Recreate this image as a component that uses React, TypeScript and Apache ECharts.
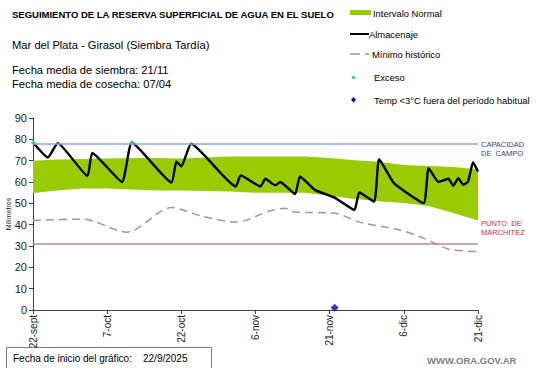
import React, { useEffect, useRef } from "react";
import * as echarts from "echarts";

// x values are days since the chart start date (22/9/2025)
const tickLabels = ["22-sept", "7-oct", "22-oct", "6-nov", "21-nov", "6-dic", "21-dic"];

const bandDays = [0, 5, 10, 15, 20, 25, 30, 35, 40, 45, 50, 55, 60, 65, 70, 75, 80, 85, 90];
const bandUpper = [70, 70.5, 70.8, 71, 71.3, 71.3, 71, 71.5, 72, 72, 72, 72, 71.3, 70.2, 69.5, 68, 67.5, 67, 66];
const bandLower = [54.8, 56, 57, 57, 56.5, 56, 56, 55.8, 55.5, 55, 55, 55, 53.5, 52, 51, 50.2, 48.8, 45.5, 42];

const storageDays = [0, 3, 5, 11, 12, 18, 20, 28, 29, 30, 32, 41, 42, 46, 47, 49, 50, 53, 54, 57, 61, 65, 66, 69, 70, 73, 79, 80, 82, 84, 85, 86, 87, 88, 89, 90];
const storageValues = [78.5, 71.5, 78.2, 62.9, 73.6, 60, 78.5, 59.8, 69.6, 67.3, 77.9, 57.9, 63.1, 57.9, 61.5, 58.4, 60, 54.3, 62.6, 56.3, 52.7, 46.9, 55.1, 50.8, 70.7, 59.5, 50.1, 66.5, 60, 61.5, 58.2, 61.8, 58.7, 60.2, 69.3, 64.9];

const minDays = [0, 10, 19, 28, 34, 41, 48, 51, 53, 61, 66, 74, 79, 84, 90];
const minValues = [41.9, 42.6, 36.5, 48, 44.1, 41.2, 46.5, 47.7, 45.9, 45.4, 41.2, 37.6, 33.7, 28.6, 27.4];

const excessDays = [0, 20];
const excessValues = [78.5, 78.5];

const coldDays = [61];
const coldValues = [1];

const fieldCapacity = 78;
const wiltingPoint = 31;

const font = "Liberation Sans, Arial, sans-serif";

export default function App() {
  const ref = useRef<HTMLDivElement>(null);

  useEffect(() => {
    if (!ref.current) return;
    const chart = echarts.init(ref.current, undefined, { renderer: "svg" });
    const pairs = (xs: number[], ys: number[]) => xs.map((x, i) => [x, ys[i]]);
    const bandData = bandDays.map((d, i) => [d, bandUpper[i], bandLower[i]]);

    const option: any = {
      animation: false,
      textStyle: { fontFamily: font },
      grid: { left: 33, right: 63, top: 118, bottom: 58, containLabel: false, outerBoundsMode: "none" },
      xAxis: {
        type: "value",
        min: 0,
        max: 90,
        interval: 15,
        splitLine: { show: false },
        axisLine: { lineStyle: { color: "#404040", width: 1 } },
        axisTick: { show: true, length: 4, lineStyle: { color: "#404040" } },
        axisLabel: {
          rotate: 90,
          fontSize: 10,
          color: "#222",
          margin: 5,
          formatter: (v: number) => tickLabels[Math.round(v / 15)] ?? "",
        },
      },
      yAxis: {
        type: "value",
        min: 0,
        max: 90,
        interval: 10,
        splitLine: { show: false },
        axisLine: { show: true, lineStyle: { color: "#404040", width: 1 } },
        axisTick: { show: true, length: 4, lineStyle: { color: "#404040" } },
        axisLabel: { fontSize: 11, color: "#222", margin: 6 },
      },
      series: [
        {
          name: "Intervalo Normal",
          type: "custom",
          data: bandData,
          encode: { x: 0, y: [1, 2] },
          z: 1,
          renderItem: (params: any, api: any) => {
            if (params.dataIndex !== 0) return null;
            const top = bandData.map((d) => api.coord([d[0], d[1]]));
            const bottom = bandData.map((d) => api.coord([d[0], d[2]])).reverse();
            return {
              type: "polygon",
              shape: { points: top.concat(bottom), smooth: 0 },
              style: { fill: "#99cc00" },
            };
          },
        },
        {
          name: "Mínimo histórico",
          type: "line",
          data: pairs(minDays, minValues),
          symbol: "none",
          smooth: 0.3,
          lineStyle: { color: "#9a9a9a", width: 1.5, type: [8, 5] },
          z: 2,
          markLine: {
            silent: true,
            symbol: "none",
            label: { show: false },
            data: [
              { yAxis: fieldCapacity, lineStyle: { color: "#8ea9db", width: 1.5, type: "solid" } },
              { yAxis: wiltingPoint, lineStyle: { color: "#c08a8a", width: 1.5, type: "solid" } },
            ],
          },
        },
        {
          name: "Almacenaje",
          type: "line",
          data: pairs(storageDays, storageValues),
          symbol: "none",
          smooth: 0.15,
          lineStyle: { color: "#000", width: 2.4 },
          z: 3,
        },
        {
          name: "Exceso",
          type: "scatter",
          data: pairs(excessDays, excessValues),
          symbol: "circle",
          symbolSize: 4,
          itemStyle: { color: "#33ccee" },
          z: 4,
        },
        {
          name: "Temp",
          type: "scatter",
          data: pairs(coldDays, coldValues),
          symbol: "diamond",
          symbolSize: 8,
          itemStyle: { color: "#0000cc" },
          z: 4,
        },
      ],
      graphic: [
        { type: "text", left: 12, top: 9, style: { text: "SEGUIMIENTO DE LA RESERVA SUPERFICIAL DE AGUA EN EL SUELO", font: `bold 9.5px ${font}`, fill: "#000" } },
        { type: "text", left: 12, top: 39, style: { text: "Mar del Plata - Girasol (Siembra Tardía)", font: `11.2px ${font}`, fill: "#000" } },
        { type: "text", left: 12, top: 64, style: { text: "Fecha media de siembra: 21/11", font: `11.2px ${font}`, fill: "#000" } },
        { type: "text", left: 12, top: 78, style: { text: "Fecha media de cosecha: 07/04", font: `11.2px ${font}`, fill: "#000" } },
        // y axis name
        { type: "text", x: 8, y: 214, rotation: Math.PI / 2, style: { text: "Milímetros", font: `7px ${font}`, fill: "#222", align: "center", verticalAlign: "middle" } },
        // legend
        { type: "rect", shape: { x: 350, y: 10, width: 21, height: 5 }, style: { fill: "#99cc00" } },
        { type: "text", x: 373, y: 13, style: { text: "Intervalo Normal", font: `9.4px ${font}`, fill: "#000", verticalAlign: "middle" } },
        { type: "line", shape: { x1: 350, y1: 34, x2: 369, y2: 34 }, style: { stroke: "#000", lineWidth: 2 } },
        { type: "text", x: 369, y: 34, style: { text: "Almacenaje", font: `9.4px ${font}`, fill: "#000", verticalAlign: "middle" } },
        { type: "line", shape: { x1: 350, y1: 54, x2: 360, y2: 54 }, style: { stroke: "#9a9a9a", lineWidth: 1.5 } },
        { type: "line", shape: { x1: 365, y1: 54, x2: 369, y2: 54 }, style: { stroke: "#555", lineWidth: 1 } },
        { type: "text", x: 372, y: 54, style: { text: "Mínimo histórico", font: `9.4px ${font}`, fill: "#000", verticalAlign: "middle" } },
        { type: "circle", shape: { cx: 353.5, cy: 77.5, r: 1.8 }, style: { fill: "#33ccee" } },
        { type: "text", x: 374, y: 77, style: { text: "Exceso", font: `9.4px ${font}`, fill: "#000", verticalAlign: "middle" } },
        { type: "polygon", shape: { points: [[353.5, 97], [356, 99.7], [353.5, 102.4], [351, 99.7]] }, style: { fill: "#0000cc" } },
        { type: "text", x: 374, y: 100, style: { text: "Temp <3°C fuera del período habitual", font: `9.4px ${font}`, fill: "#000", verticalAlign: "middle" } },
        // right labels
        { type: "text", x: 481, y: 140, style: { text: "CAPACIDAD\nDE  CAMPO", font: `7.5px ${font}`, fill: "#3a3aa8", lineHeight: 9 } },
        { type: "text", x: 481, y: 219, style: { text: "PUNTO  DE\nMARCHITEZ", font: `7.5px ${font}`, fill: "#cc2a3a", lineHeight: 9 } },
        // bottom
        { type: "rect", shape: { x: 6.5, y: 347.5, width: 205, height: 22 }, style: { fill: "#fff", stroke: "#8c7b78", lineWidth: 1 } },
        { type: "text", x: 13, y: 358, style: { text: "Fecha de inicio del gráfico:", font: `10px ${font}`, fill: "#000", verticalAlign: "middle" } },
        { type: "text", x: 143, y: 358, style: { text: "22/9/2025", font: `10px ${font}`, fill: "#000", verticalAlign: "middle" } },
        { type: "text", x: 427, y: 360, style: { text: "WWW.ORA.GOV.AR", font: `bold 9.5px ${font}`, fill: "#7f7f7f", verticalAlign: "middle" } },
      ],
    };

    chart.setOption(option);
    return () => chart.dispose();
  }, []);

  return <div ref={ref} style={{ width: 541, height: 368, position: "absolute", left: 0, top: 0 }} />;
}
